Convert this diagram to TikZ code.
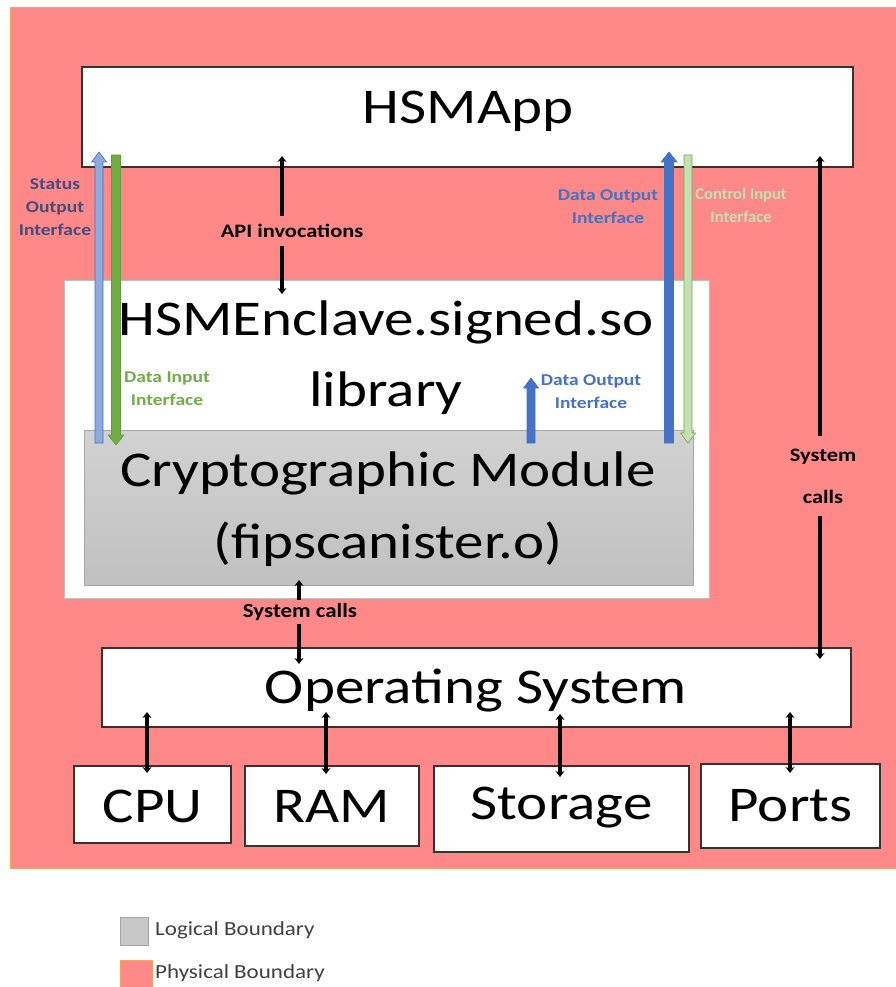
\documentclass[tikz,border=0pt]{standalone}
\usepackage{fontspec}
\setmainfont{Carlito}
\usetikzlibrary{arrows.meta,calc}
\definecolor{physred}{HTML}{FF8888}
\definecolor{physedge}{HTML}{F4A460}
\definecolor{logicgray}{HTML}{C8C8C8}
\definecolor{logictop}{HTML}{D2D2D2}
\definecolor{logicbot}{HTML}{C0C0C0}
\definecolor{logicedge}{HTML}{A6A6A6}
\definecolor{encedge}{HTML}{BFBFBF}
\definecolor{navy}{HTML}{3F4E7C}
\definecolor{dblue}{HTML}{4472C4}
\definecolor{lblue}{HTML}{8EAADB}
\definecolor{dgreen}{HTML}{70AD47}
\definecolor{lgreen}{HTML}{C5E0B4}
\definecolor{legtext}{HTML}{404040}
\newcommand\blockarr[6]{%
 \pgfmathsetmacro\bxl{#2-#5}\pgfmathsetmacro\bxr{#2+#5}%
 \pgfmathsetmacro\bhl{#2-#5-3.5}\pgfmathsetmacro\bhr{#2+#5+3.5}%
 \pgfmathsetmacro\bym{#4#6}%
 \filldraw[#1] (\bxl,#3) -- (\bxl,\bym) -- (\bhl,\bym) -- (#2,#4) -- (\bhr,\bym) -- (\bxr,\bym) -- (\bxr,#3) -- cycle;}
\tikzset{
  bigtext/.style={font=\fontsize{50}{60}\selectfont, inner sep=0pt, xscale=1.18},
  whitebox/.style={draw=black!80, line width=1.2pt, fill=white, inner sep=0pt},
  blk/.style={line width=3.5pt, {Stealth[length=6pt,width=9pt]}-{Stealth[length=6pt,width=9pt]}},
  lbl/.style={font=\fontsize{16.5}{23}\selectfont\bfseries, align=center, inner sep=0pt, xscale=1.18},
  legend/.style={font=\fontsize{20}{22}\selectfont, text=legtext, anchor=west, inner sep=0pt, xscale=1.15}
}
\begin{document}
\begin{tikzpicture}[x=1pt,y=-1pt]
\useasboundingbox (0,0) rectangle (895,987);
\fill[white] (0,0) rectangle (895,987);
% physical boundary
\node[fill=physred, draw=physedge, line width=0.8pt, minimum width=887pt, minimum height=861pt, inner sep=0pt] (phys) at (453.5,437.5) {};
% HSMApp
\node[whitebox, minimum width=771pt, minimum height=100pt] (app) at (467.5,117) {};
\node[bigtext] (apptxt) at (468,111) {HSMApp};
% enclave
\node[fill=white, draw=encedge, line width=1pt, minimum width=645pt, minimum height=318pt, inner sep=0pt] (encl) at (386.5,439) {};
\node[bigtext] (enctxt1) at (386,322) {HSMEnclave.signed.so};
\node[bigtext] (enctxt2) at (386,393) {library};
% module
\node[top color=logictop, bottom color=logicbot, draw=logicedge, line width=1pt, minimum width=609pt, minimum height=155pt, inner sep=0pt] (mod) at (388.5,507.5) {};
\node[bigtext] (modtxt1) at (388,473) {Cryptographic Module};
\node[bigtext] (modtxt2) at (388,544) {(fipscanister.o)};
% OS and hardware
\node[whitebox, minimum width=749pt, minimum height=79pt] (os) at (476.5,687.5) {};
\node[bigtext] (ostxt) at (476,691) {Operating System};
\node[whitebox, minimum width=157pt, minimum height=77pt] (cpu) at (152.5,804.5) {};
\node[bigtext] at (152.5,806) {CPU};
\node[whitebox, minimum width=174pt, minimum height=80pt] (ram) at (332,806) {};
\node[bigtext] at (332,806) {RAM};
\node[whitebox, minimum width=255pt, minimum height=86pt] (sto) at (561.5,809) {};
\node[bigtext] at (561.5,808) {Storage};
\node[whitebox, minimum width=179pt, minimum height=84pt] (ports) at (790.5,806) {};
\node[bigtext] at (790.5,806) {Ports};
% black connectors
\coordinate (cpuA) at (147,712); \coordinate (cpuB) at (147,773);
\coordinate (ramA) at (326,712); \coordinate (ramB) at (326,774);
\coordinate (stoA) at (560,714); \coordinate (stoB) at (560,777);
\coordinate (porA) at (790,712); \coordinate (porB) at (790,773);
\draw[blk] (cpuA) -- (cpuB);
\draw[blk] (ramA) -- (ramB);
\draw[blk] (stoA) -- (stoB);
\draw[blk] (porA) -- (porB);
\coordinate (apiA) at (282,156); \coordinate (apiB) at (282,294);
\draw[blk] (apiA) -- (apiB);
\node[lbl, font=\fontsize{19}{23}\selectfont\bfseries, fill=physred, inner xsep=2pt, inner ysep=8pt] (apilbl) at (292,231) {API invocations};
\coordinate (scA) at (299,580); \coordinate (scB) at (299,664);
\draw[blk] (scA) -- (scB);
\node[lbl, font=\fontsize{20}{22}\selectfont\bfseries, xscale=0.97, fill=physred, inner xsep=2pt, inner ysep=3pt] (sclbl) at (300,612) {System calls};
\coordinate (rsA) at (820,156); \coordinate (rsB) at (820,659);
\draw[blk] (rsA) -- (rsB);
\node[lbl, font=\fontsize{19}{42}\selectfont\bfseries, fill=physred, inner xsep=2pt, inner ysep=13pt] (rslbl) at (823,476) {System\\calls};
% block arrows (interfaces)
\blockarr{fill=lblue, draw=dblue, line width=0.6pt}{99}{443}{152}{4}{+10}
\blockarr{fill=dgreen, draw=dgreen!90!black, line width=0.6pt}{116}{155}{445}{4.5}{-10}
\blockarr{fill=dblue, draw=dblue, line width=0.6pt}{669}{443}{152}{4.5}{+10}
\blockarr{fill=lgreen, draw=dgreen, line width=0.6pt}{688}{155}{443}{4}{-10}
\blockarr{fill=dblue, draw=dblue, line width=0.6pt}{531}{443}{378}{4}{+10}
% interface labels
\node[lbl, text=navy] (sol) at (55,207) {Status\\Output\\Interface};
\node[lbl, text=dgreen] (dil) at (167,389) {Data Input\\Interface};
\node[lbl, text=dblue] (dol) at (608,207) {Data Output\\Interface};
\node[lbl, text=lgreen, xscale=0.85] (cil) at (741,205) {Control Input\\Interface};
\node[lbl, text=dblue] (dol2) at (591,392) {Data Output\\Interface};
% legend
\node[fill=logicgray, draw=logicedge, line width=0.8pt, minimum size=28pt, inner sep=0pt] (legg) at (134,931) {};
\node[legend] (leggt) at (155,930) {Logical Boundary};
\node[fill=physred, draw=physedge, line width=0.8pt, minimum width=32pt, minimum height=28pt, inner sep=0pt] (legr) at (136,974) {};
\node[legend] (legrt) at (155,973) {Physical Boundary};
\end{tikzpicture}
\end{document}
